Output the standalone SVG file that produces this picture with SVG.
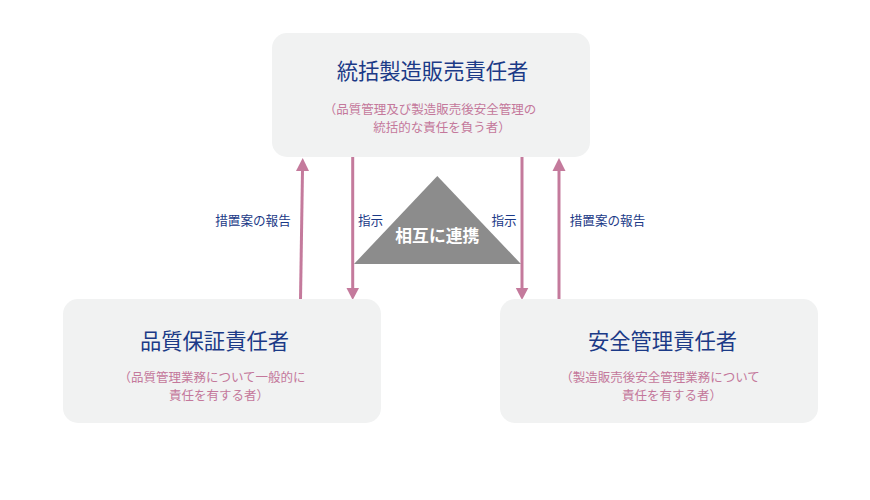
<svg xmlns="http://www.w3.org/2000/svg" width="870" height="500" viewBox="0 0 870 500">
<defs>
<style>
.box{fill:#f1f2f2;}
.title{font-family:"Noto Sans CJK JP","Noto Sans",sans-serif;font-size:21.3px;fill:#1b3a87;text-anchor:middle;}
.sub{font-family:"Noto Sans CJK JP","Noto Sans",sans-serif;font-size:12.5px;fill:#c4789b;text-anchor:middle;}
.lbl{font-family:"Noto Sans CJK JP","Noto Sans",sans-serif;font-size:12.6px;fill:#1b3a87;text-anchor:middle;}
.arr{stroke:#c47a9c;stroke-width:3;fill:none;}
.head{fill:#c47a9c;}
</style>
</defs>
<rect width="870" height="500" fill="#ffffff"/>
<g id="connectors">
<line class="arr" x1="300.5" y1="300" x2="302.5" y2="170"/>
<polygon class="head" points="302.7,158 296,171 309,171"/>
<line class="arr" x1="352.7" y1="157" x2="352.7" y2="289"/>
<polygon class="head" points="352.7,300 346.5,288 359,288"/>
<line class="arr" x1="522" y1="157" x2="522" y2="289"/>
<polygon class="head" points="522,300 515.8,288 528.3,288"/>
<line class="arr" x1="559" y1="300" x2="559" y2="170"/>
<polygon class="head" points="559,158 552.5,171 565.5,171"/>
<text class="lbl" x="253" y="225">措置案の報告</text>
<text class="lbl" x="370.5" y="225">指示</text>
<text class="lbl" x="504" y="225">指示</text>
<text class="lbl" x="607.5" y="225">措置案の報告</text>
</g>
<g id="triangle">
<polygon points="437.3,176 354,264 521,264" fill="#8c8c8c"/>
<text x="437.3" y="242" font-family="'Noto Sans CJK JP','Noto Sans',sans-serif" font-size="16.8" font-weight="bold" fill="#ffffff" text-anchor="middle">相互に連携</text>
</g>
<g id="top">
<rect class="box" x="272" y="33" width="318" height="124" rx="15"/>
<text class="title" x="432.5" y="78.5">統括製造販売責任者</text>
<text class="sub"><tspan x="430" y="113.5">（品質管理及び製造販売後安全管理の</tspan><tspan x="442" y="132">統括的な責任を負う者）</tspan></text>
</g>
<g id="left">
<rect class="box" x="63" y="299" width="318" height="124" rx="15"/>
<text class="title" x="214.5" y="348.5">品質保証責任者</text>
<text class="sub"><tspan x="212" y="381.5">（品質管理業務について一般的に</tspan><tspan x="219" y="400">責任を有する者）</tspan></text>
</g>
<g id="right">
<rect class="box" x="500" y="299" width="318" height="124" rx="15"/>
<text class="title" x="662.5" y="348.5">安全管理責任者</text>
<text class="sub"><tspan x="660" y="381.5">（製造販売後安全管理業務について</tspan><tspan x="672" y="400">責任を有する者）</tspan></text>
</g>
</svg>
